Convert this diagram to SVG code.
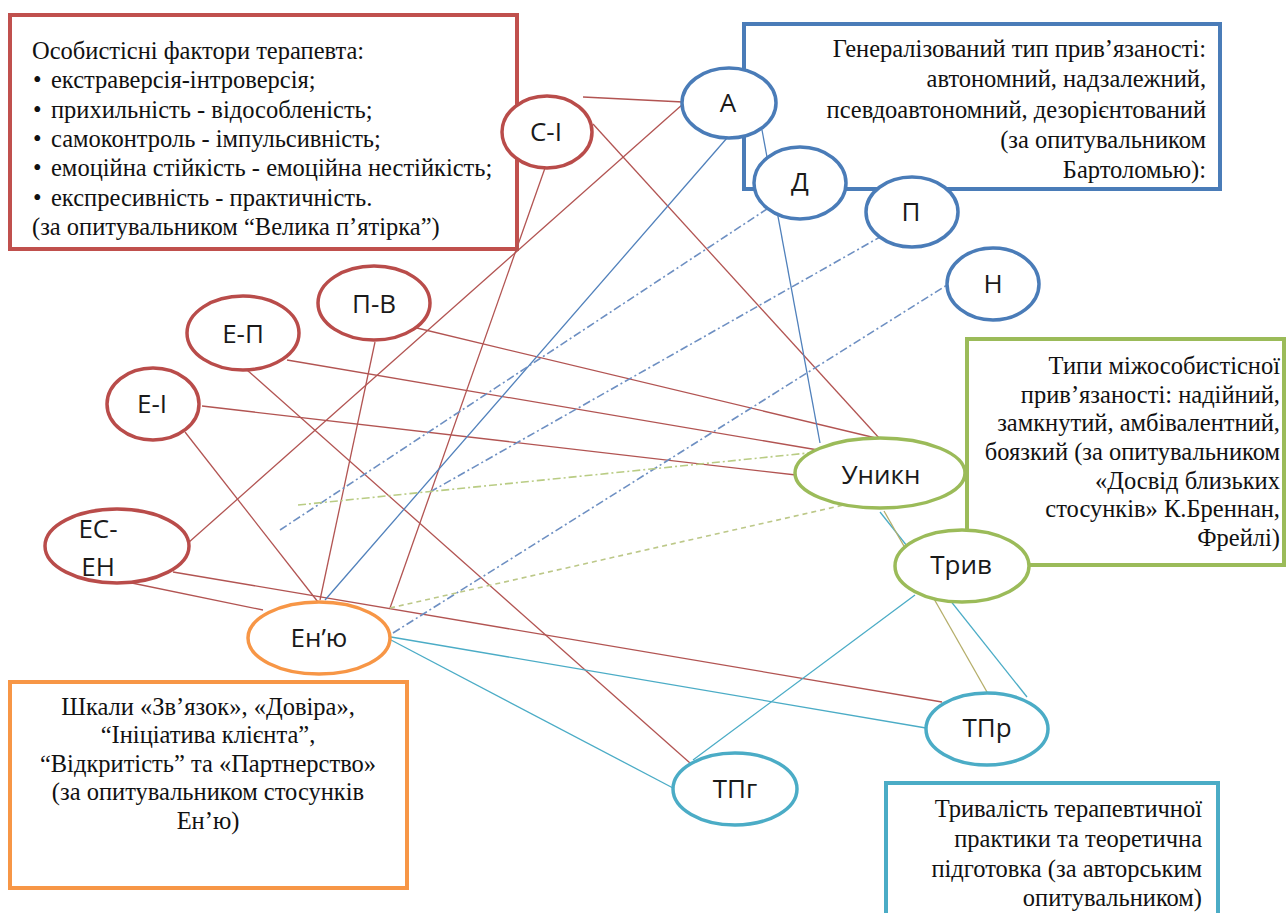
<svg xmlns="http://www.w3.org/2000/svg" width="1287" height="913" viewBox="0 0 1287 913">
<style>
  .box { fill: #ffffff; stroke-width: 4; }
  .bt { font-family: "Liberation Serif", "Times New Roman", serif; font-size: 24.5px; fill: #111111; }
  .nl { font-family: "Open Sans", "Noto Sans", sans-serif; font-size: 26px; fill: #1a1a1a; text-anchor: middle; }
  .el { fill: #ffffff; stroke-width: 3.5; }
  .red { stroke: #b94c4a; }
  .blue { stroke: #4a7cb8; }
  .green { stroke: #9bbb59; }
  .orange { stroke: #f79646; }
  .teal { stroke: #4bacc6; }
  .c { fill: none; stroke-width: 1.3; }
  .cr { stroke: #b25452; }
  .cb { stroke: #5080bb; }
  .ct { stroke: #4bacc6; }
  .co { stroke: #b5ae6a; }
  .cbd { stroke: #6d8fc2; stroke-width: 1.6; stroke-dasharray: 8 3 2 3; }
  .cgd { stroke: #b9cc84; stroke-width: 1.6; stroke-dasharray: 8 3 2 3; }
  .cgs { stroke: #bcc888; stroke-width: 1.6; stroke-dasharray: 5 4; }
</style>

<!-- description boxes -->
<g id="box-personal">
  <rect class="box" x="10" y="15" width="507" height="234" stroke="#c0504d"/>
  <text class="bt" x="32" y="59">Особистісні фактори терапевта:</text>
  <text class="bt" x="33" y="88">•</text><text class="bt" x="51" y="88">екстраверсія-інтроверсія;</text>
  <text class="bt" x="33" y="118">•</text><text class="bt" x="51" y="118">прихильність - відособленість;</text>
  <text class="bt" x="33" y="147">•</text><text class="bt" x="51" y="147">самоконтроль - імпульсивність;</text>
  <text class="bt" x="33" y="176">•</text><text class="bt" x="51" y="176">емоційна стійкість - емоційна нестійкість;</text>
  <text class="bt" x="33" y="206">•</text><text class="bt" x="51" y="206">експресивність - практичність.</text>
  <text class="bt" x="32" y="235">(за опитувальником “Велика п’ятірка”)</text>
</g>
<g id="box-general">
  <rect class="box" x="744" y="24" width="476" height="165" stroke="#4a7cb8"/>
  <g text-anchor="end">
    <text class="bt" x="1206" y="57">Генералізований тип прив’язаності:</text>
    <text class="bt" x="1206" y="87">автономний, надзалежний,</text>
    <text class="bt" x="1206" y="118">псевдоавтономний, дезорієнтований</text>
    <text class="bt" x="1206" y="148">(за опитувальником</text>
    <text class="bt" x="1206" y="178">Бартоломью):</text>
  </g>
</g>
<g id="box-interpersonal">
  <rect class="box" x="967" y="339" width="317" height="226" stroke="#9bbb59"/>
  <g text-anchor="end">
    <text class="bt" x="1280" y="374">Типи міжособистісної</text>
    <text class="bt" x="1280" y="403">прив’язаності: надійний,</text>
    <text class="bt" x="1280" y="431">замкнутий, амбівалентний,</text>
    <text class="bt" x="1280" y="460">боязкий (за опитувальником</text>
    <text class="bt" x="1280" y="489">«Досвід близьких</text>
    <text class="bt" x="1280" y="517">стосунків» К.Бреннан,</text>
    <text class="bt" x="1280" y="546">Фрейлі)</text>
  </g>
</g>
<g id="box-enyu">
  <rect class="box" x="10" y="682" width="397" height="206" stroke="#f79646"/>
  <g text-anchor="middle">
    <text class="bt" x="208" y="715">Шкали «Зв’язок», «Довіра»,</text>
    <text class="bt" x="208" y="743">“Ініціатива клієнта”,</text>
    <text class="bt" x="208" y="772">“Відкритість” та «Партнерство»</text>
    <text class="bt" x="208" y="800">(за опитувальником стосунків</text>
    <text class="bt" x="208" y="829">Ен’ю)</text>
  </g>
</g>
<g id="box-practice">
  <rect class="box" x="886" y="783" width="332" height="140" stroke="#4bacc6"/>
  <g text-anchor="end">
    <text class="bt" x="1202" y="817">Тривалість терапевтичної</text>
    <text class="bt" x="1202" y="847">практики та теоретична</text>
    <text class="bt" x="1202" y="877">підготовка (за авторським</text>
    <text class="bt" x="1202" y="906">опитувальником)</text>
  </g>
</g>

<!-- connectors -->
<g id="connectors">
  <line class="c cr" x1="583" y1="97" x2="683" y2="102"/>
  <line class="c cr" x1="593" y1="124" x2="880" y2="439"/>
  <line class="c cr" x1="545" y1="168" x2="390" y2="608"/>
  <line class="c cr" x1="683" y1="104" x2="188" y2="543"/>
  <line class="c cr" x1="417" y1="328" x2="880" y2="439"/>
  <line class="c cr" x1="375" y1="342" x2="320" y2="600"/>
  <line class="c cr" x1="287" y1="360" x2="818" y2="450"/>
  <line class="c cr" x1="247" y1="370" x2="690" y2="763"/>
  <line class="c cr" x1="202" y1="406" x2="796" y2="475"/>
  <line class="c cr" x1="185" y1="432" x2="318" y2="602"/>
  <line class="c cr" x1="127" y1="582" x2="263" y2="610"/>
  <line class="c cr" x1="173" y1="572" x2="942" y2="702"/>
  <line class="c cb" x1="325" y1="600" x2="727" y2="138"/>
  <line class="c cb" x1="762" y1="130" x2="820" y2="443"/>
  <line class="c ct" x1="391" y1="637" x2="926" y2="728"/>
  <line class="c ct" x1="391" y1="640" x2="673" y2="788"/>
  <line class="c ct" x1="915" y1="595" x2="693" y2="760"/>
  <line class="c ct" x1="880" y1="512" x2="1027" y2="697"/>
  <line class="c co" x1="884" y1="511" x2="987" y2="692"/>
  <line class="c cbd" x1="280" y1="530" x2="770" y2="207"/>
  <line class="c cbd" x1="430" y1="492" x2="880" y2="237"/>
  <line class="c cbd" x1="393" y1="633" x2="947" y2="285"/>
  <line class="c cgd" x1="298" y1="505" x2="818" y2="452"/>
  <line class="c cgs" x1="390" y1="608" x2="857" y2="502"/>
</g>

<!-- nodes -->
<g id="node-SI"><ellipse class="el red" cx="547" cy="132" rx="45" ry="36"/><text class="nl" x="546" y="141">С-І</text></g>
<g id="node-A"><ellipse class="el blue" cx="729" cy="103" rx="47" ry="35"/><text class="nl" x="728" y="112">А</text></g>
<g id="node-D"><ellipse class="el blue" cx="800" cy="183" rx="46" ry="36"/><text class="nl" x="800" y="191">Д</text></g>
<g id="node-P"><ellipse class="el blue" cx="912" cy="212" rx="46" ry="35"/><text class="nl" x="911" y="221">П</text></g>
<g id="node-N"><ellipse class="el blue" cx="993" cy="284" rx="46" ry="36"/><text class="nl" x="993" y="293">Н</text></g>
<g id="node-PV"><ellipse class="el red" cx="374" cy="303" rx="56" ry="37"/><text class="nl" x="374" y="313">П-В</text></g>
<g id="node-EP"><ellipse class="el red" cx="243" cy="333" rx="56" ry="37"/><text class="nl" x="243" y="343">Е-П</text></g>
<g id="node-EI"><ellipse class="el red" cx="153" cy="404" rx="46" ry="36"/><text class="nl" x="152" y="413">Е-І</text></g>
<g id="node-ESEN"><ellipse class="el red" cx="117" cy="546" rx="72" ry="37"/><text class="nl" x="98" y="538" text-anchor="start">ЕС-</text><text class="nl" x="98" y="576" text-anchor="start">ЕН</text></g>
<g id="node-Enyu"><ellipse class="el orange" cx="319" cy="638" rx="71" ry="36"/><text class="nl" x="319" y="647">Ен’ю</text></g>
<g id="node-Unykn"><ellipse class="el green" cx="880" cy="473" rx="85" ry="35"/><text class="nl" x="881" y="484">Уникн</text></g>
<g id="node-Tryv"><ellipse class="el green" cx="962" cy="566" rx="67" ry="36"/><text class="nl" x="961" y="574">Трив</text></g>
<g id="node-TPr"><ellipse class="el teal" cx="987" cy="729" rx="61" ry="36"/><text class="nl" x="987" y="737">ТПр</text></g>
<g id="node-TPg"><ellipse class="el teal" cx="735" cy="789" rx="62" ry="36"/><text class="nl" x="735" y="798">ТПг</text></g>
</svg>
